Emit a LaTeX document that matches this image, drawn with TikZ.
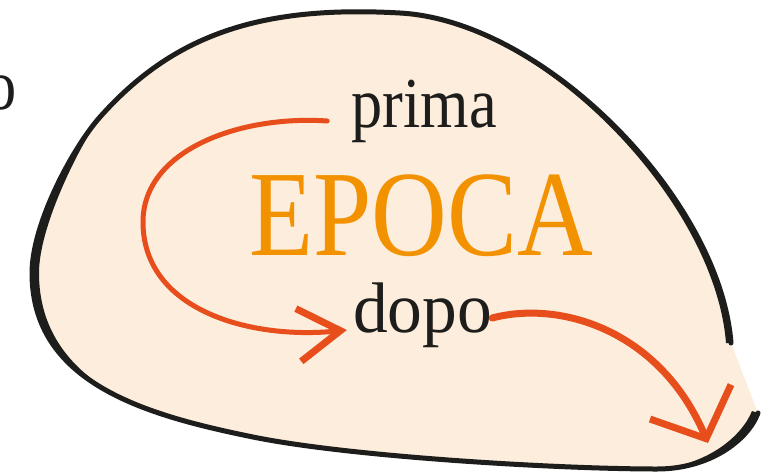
\documentclass[tikz,border=0pt]{standalone}
\usepackage{graphicx}
\usepackage{fontspec}
\setmainfont{Liberation Serif}
\usetikzlibrary{arrows.meta,calc}
\definecolor{cream}{RGB}{253,237,220}
\definecolor{ink}{RGB}{29,29,27}
\definecolor{epocaorange}{RGB}{243,146,0}
\definecolor{arrowred}{RGB}{232,78,27}
\begin{document}
\begin{tikzpicture}[x=1pt,y=-1pt,
  wordlbl/.style={inner sep=0pt, anchor=base, text=ink, font=\fontsize{71.6}{80}\selectfont},
  epocalbl/.style={inner sep=0pt, anchor=base, text=epocaorange, font=\fontsize{122}{130}\selectfont},
  blobline/.style={draw=ink, line width=5pt, line cap=round, line join=round},
  brush/.style={fill=ink},
  flowline/.style={draw=arrowred, line cap=round}]
\useasboundingbox (0,0) rectangle (773,474);

% blob fill
\fill[cream] (731,343) .. controls (720,200) and (545,21) .. (400,13)
  .. controls (260,5) and (173,35) .. (100,117)
  .. controls (73.4,146.9) and (32,223) .. (32,273)
  .. controls (32,383) and (145,415) .. (253,437)
  .. controls (351,457) and (560,469) .. (657,469)
  .. controls (710,469) and (748,440) .. (758,413) -- cycle;
% blob outline (open at lower right)
\draw[blobline] (731,343) .. controls (720,200) and (545,21) .. (400,13)
  .. controls (260,5) and (173,35) .. (100,117)
  .. controls (73.4,146.9) and (32,223) .. (32,273)
  .. controls (32,383) and (145,415) .. (253,437)
  .. controls (351,457) and (560,469) .. (657,469)
  .. controls (710,469) and (748,440) .. (758,413);
% thicker brush parts
\fill[brush] (100,117) .. controls (73.4,146.9) and (32,223) .. (32,273)
  .. controls (32,383) and (145,415) .. (253,437)
  .. controls (147,421) and (39,380) .. (39,273)
  .. controls (39,228) and (76,152) .. (100,117) -- cycle;
\fill[brush] (731,343) .. controls (720,200) and (545,21) .. (400,13)
  .. controls (545,25) and (715,202) .. (726,343) -- cycle;
\fill[brush] (657,469) .. controls (710,469) and (748,440) .. (758,413)
  -- (752,411) .. controls (742,436) and (708,465) .. (657,469) -- cycle;

% texts
\node[wordlbl, anchor=base east] (cut) at (17,109) {\scalebox{0.87}[1]{o}};
\node[wordlbl] (prima) at (424,127) {\scalebox{0.87}[1]{prima}};
\node[epocalbl] (epoca) at (421.5,255) {\scalebox{0.86}[1]{EPOCA}};
\node[wordlbl] (dopo) at (422.5,332) {\scalebox{0.97}[1]{dopo}};

% arrows
\draw[flowline, line width=5pt, -{Straight Barb[length=42pt,width=53pt,line width=7pt]}]
  ($(prima.base west)+(-24,-6)$) .. controls (240,115) and (143,150) .. (143,222)
  .. controls (143,310) and (250,340) .. ($(dopo.base west)+(-6,-2)$);
\coordinate (end2) at (708,443);
\draw[flowline, line width=7pt, -{Straight Barb[length=40pt,width=88pt,line width=7pt]}]
  ($(dopo.base east)+(0,-14)$) .. controls (560,300) and (660,330) .. (end2);
\end{tikzpicture}
\end{document}
